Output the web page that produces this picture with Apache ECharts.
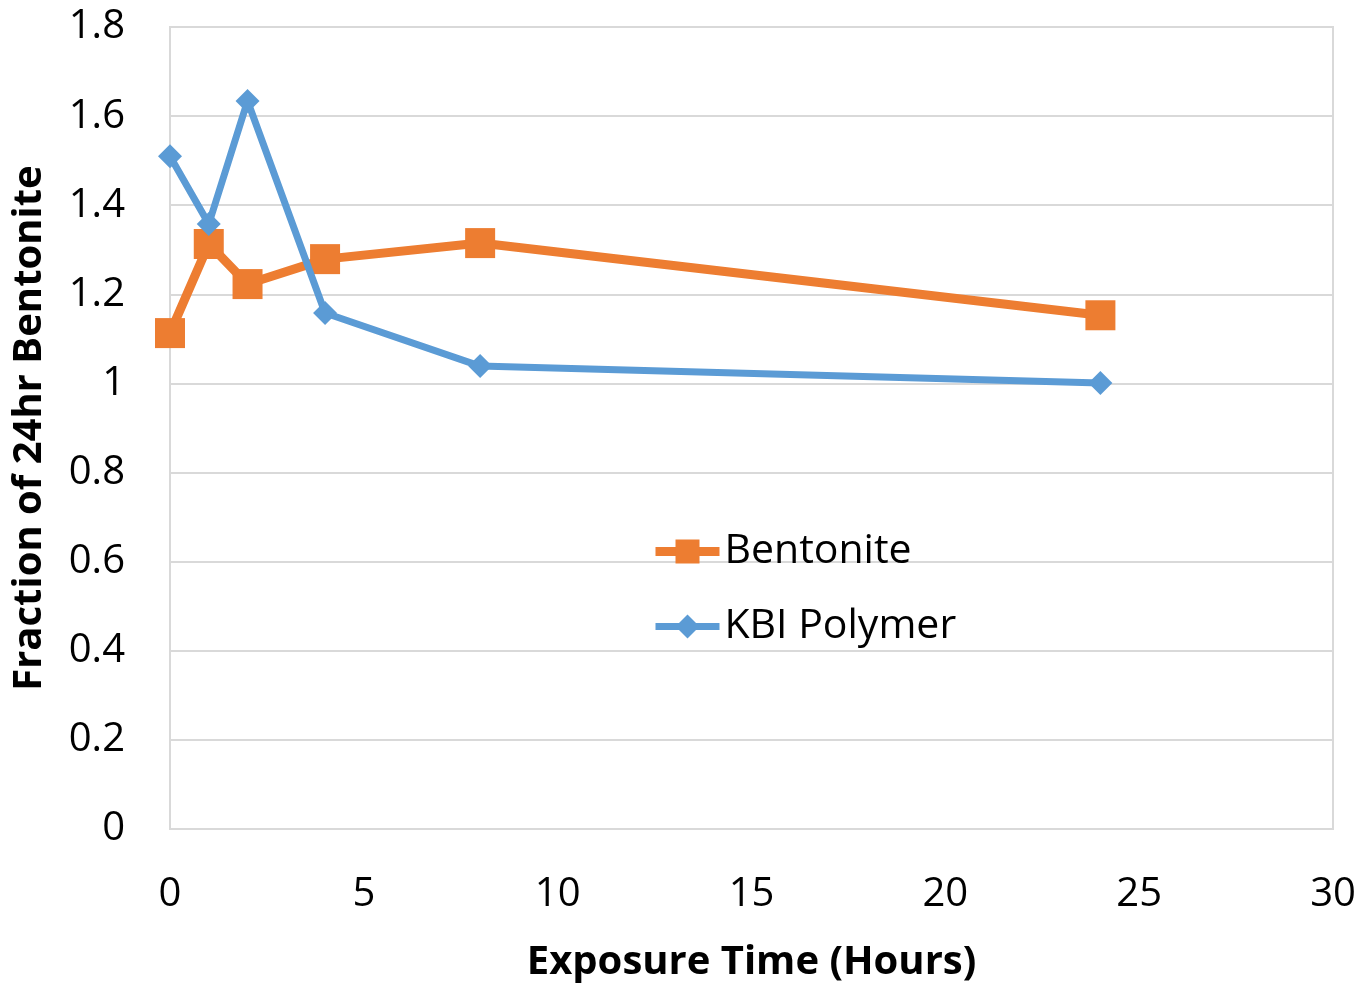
<!DOCTYPE html>
<html><head><meta charset="utf-8">
<script src="https://cdn.jsdelivr.net/npm/echarts@6/dist/echarts.min.js"></script>
<style>html,body{margin:0;padding:0;background:#fff}#c{width:1366px;height:983px}</style>
</head><body><div id="c"></div>
<script>
const hours = [0, 1, 2, 4, 8, 24];
const bentonite = [1.113, 1.313, 1.223, 1.279, 1.315, 1.153];
const kbiPolymer = [1.510, 1.358, 1.634, 1.158, 1.039, 1.001];
const seriesNames = ['Bentonite', 'KBI Polymer'];
const xTitle = 'Exposure Time (Hours)';
const yTitle = 'Fraction of 24hr Bentonite';

const font = '"Open Sans", sans-serif';
const chart = echarts.init(document.getElementById('c'));
chart.setOption({
  animation: false,
  grid: {left: 170, right: 33, top: 27, bottom: 154, show: true, borderColor: '#d9d9d9', borderWidth: 2,
         outerBoundsMode: 'none', containLabel: false},
  legend: {
    orient: 'vertical', left: 651, top: 531, padding: 0, itemGap: 34, itemWidth: 64, itemHeight: 30,
    textStyle: {fontFamily: font, fontSize: 41, color: '#000'},
    data: [
      {name: seriesNames[0], lineStyle: {width: 9}},
      {name: seriesNames[1], lineStyle: {width: 7}}
    ]
  },
  xAxis: {
    type: 'value', min: 0, max: 30, interval: 5,
    name: xTitle, nameLocation: 'middle', nameGap: 114,
    nameTextStyle: {fontFamily: font, fontSize: 40, fontWeight: 'bold', color: '#000'},
    axisLine: {lineStyle: {color: '#d9d9d9', width: 2}},
    axisTick: {show: false},
    splitLine: {show: false},
    axisLabel: {fontFamily: font, fontSize: 40, color: '#000', margin: 46}
  },
  yAxis: {
    type: 'value', min: 0, max: 1.8, interval: 0.2,
    name: yTitle, nameLocation: 'middle', nameGap: 120,
    nameTextStyle: {fontFamily: font, fontSize: 40, fontWeight: 'bold', color: '#000'},
    axisLine: {show: true, lineStyle: {color: '#d9d9d9', width: 2}},
    axisTick: {show: false},
    splitLine: {lineStyle: {color: '#d9d9d9', width: 2}},
    axisLabel: {fontFamily: font, fontSize: 40, color: '#000', margin: 45,
      formatter: v => String(Math.round(v * 10) / 10)}
  },
  series: [
    {name: seriesNames[0], type: 'line', data: hours.map((h, i) => [h, bentonite[i]]),
     symbol: 'rect', symbolSize: 30, lineStyle: {color: '#ed7d31', width: 9},
     itemStyle: {color: '#ed7d31'}, z: 2},
    {name: seriesNames[1], type: 'line', data: hours.map((h, i) => [h, kbiPolymer[i]]),
     symbol: 'diamond', symbolSize: 24, lineStyle: {color: '#5b9bd5', width: 7},
     itemStyle: {color: '#5b9bd5'}, z: 3}
  ]
});
</script></body></html>
